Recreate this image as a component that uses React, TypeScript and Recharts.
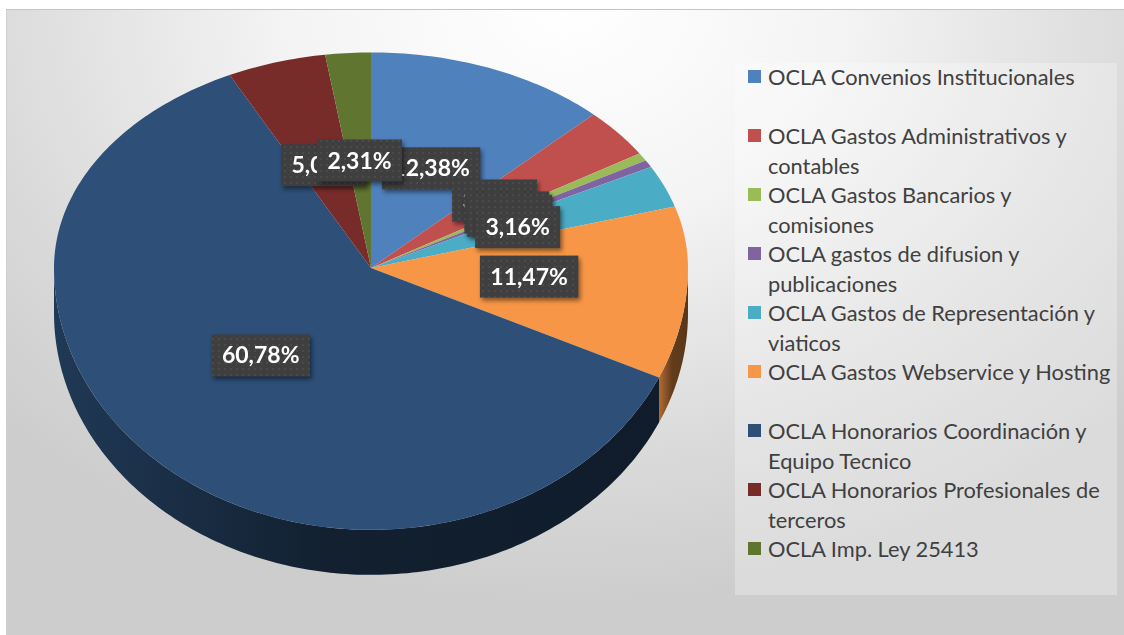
import React from "react";
import { PieChart, Pie, Legend } from "recharts";

// legend text, already broken where the original wraps
const legendLines: string[][] = [
  ["OCLA Convenios Institucionales"],
  ["OCLA Gastos Administrativos y", "contables"],
  ["OCLA Gastos Bancarios y", "comisiones"],
  ["OCLA gastos de difusion y", "publicaciones"],
  ["OCLA Gastos de Representación y", "viaticos"],
  ["OCLA Gastos Webservice y Hosting"],
  ["OCLA Honorarios Coordinación y", "Equipo Tecnico"],
  ["OCLA Honorarios Profesionales de", "terceros"],
  ["OCLA Imp. Ley 25413"],
];
const categories = legendLines.map((l) => l.join(" "));
// share of total, %
const shares = [12.38, 3.7, 0.6, 0.55, 3.16, 11.47, 60.78, 5.05, 2.31];

const colors = [
  "#4F81BD",
  "#C0504D",
  "#9BBB59",
  "#8064A2",
  "#4BACC6",
  "#F79646",
  "#2D4F78",
  "#772C2A",
  "#5F7530",
];

const data = categories.map((name, i) => ({ name, value: shares[i] }));

// fake perspective: back half flatter than the front half
const RY_BACK = 0.68;
const RY_FRONT = 0.826;
const DEPTH = 0.142;

const shade = (hex: string, k: number) => {
  const n = parseInt(hex.slice(1), 16);
  const c = [(n >> 16) & 255, (n >> 8) & 255, n & 255].map((v) => Math.round(v * k));
  return `rgb(${c.join(",")})`;
};

const pt = (cx: number, cy: number, r: number, deg: number, k = 1) => {
  const a = (deg * Math.PI) / 180;
  const s = Math.sin(a);
  return [cx + r * k * Math.cos(a), cy - r * k * s * (s > 0 ? RY_BACK : RY_FRONT)];
};

const arcPts = (cx: number, cy: number, r: number, a1: number, a2: number) => {
  const n = Math.max(2, Math.ceil(Math.abs(a2 - a1)));
  const pts: number[][] = [];
  for (let i = 0; i <= n; i++) pts.push(pt(cx, cy, r, a1 + ((a2 - a1) * i) / n));
  return pts;
};

const toPath = (pts: number[][]) =>
  "M" + pts.map((p) => `${p[0].toFixed(2)},${p[1].toFixed(2)}`).join(" L") + " Z";

const renderSlice = (props: any) => {
  const { cx, cy, outerRadius: r, startAngle, endAngle, index } = props;
  const top = [[cx, cy], ...arcPts(cx, cy, r, startAngle, endAngle)];
  const hi = Math.min(startAngle, 0);
  const lo = Math.max(endAngle, -180);
  let side = null;
  if (hi > lo) {
    const d = r * DEPTH;
    const upper = arcPts(cx, cy, r, hi, lo);
    const lower = upper.map(([x, y]) => [x, y + d]).reverse();
    side = <path d={toPath([...upper, ...lower])} fill={`url(#side-${index})`} />;
  }
  return (
    <g key={`s-${index}`}>
      {side}
      <path d={toPath(top)} fill={colors[index]} />
    </g>
  );
};

const fmt = (v: number) => v.toFixed(2).replace(".", ",") + "%";

const renderValue = (props: any) => {
  const { cx, cy, outerRadius: r, midAngle, index, value } = props;
  const [x, y0] = pt(cx, cy, r, midAngle, 0.5);
  // labels in the front half sit a little higher in the original
  const y = y0 > cy ? cy + (y0 - cy) * 0.93 : y0;
  const text = fmt(value);
  const w = text.length * 13.4 + 18;
  const h = 42;
  return (
    <g key={`l-${index}`} className="val-box">
      <rect x={x - w / 2} y={y - h / 2} width={w} height={h} fill="url(#dots)" />
      <text
        x={x}
        y={y + 8}
        textAnchor="middle"
        fill="#ffffff"
        fontFamily="Lato, sans-serif"
        fontWeight={700}
        fontSize={23}
      >
        {text}
      </text>
    </g>
  );
};

const renderLegend = () => (
  <div
    style={{
      fontFamily: "Lato, sans-serif",
      fontSize: 21.8,
      color: "#404040",
      lineHeight: "29.5px",
      marginTop: -1,
    }}
  >
    {legendLines.map((lines, i) => (
      <div key={i} style={{ position: "relative", height: 59, paddingLeft: 33 }}>
        <span
          style={{
            position: "absolute",
            left: 13,
            top: 8,
            width: 13,
            height: 13,
            background: colors[i],
          }}
        />
        {lines.map((l) => (
          <div key={l} style={{ whiteSpace: "nowrap" }}>
            {l}
          </div>
        ))}
      </div>
    ))}
  </div>
);

export default function App() {
  return (
    <div style={{ position: "absolute", left: 0, top: 0, width: 1124, height: 635, background: "#fff" }}>
      <style>{`
        .pie-geo .recharts-pie-labels { filter: drop-shadow(0px 12px 12px rgba(0,0,0,0.35)); }
        .val-box { filter: drop-shadow(2px 3px 2px rgba(0,0,0,0.45)); }
      `}</style>
      <div
        style={{
          position: "absolute",
          left: 6,
          top: 9,
          width: 1118,
          height: 626,
          borderTop: "1px solid #c4c4c4",
          borderLeft: "1px solid #d0d0d0",
          boxSizing: "border-box",
          background:
            "radial-gradient(ellipse 70% 95% at 50% 0%, #ffffff 0%, #f4f4f4 35%, #dadada 75%, #cdcdcd 100%)",
        }}
      />
      <svg width={0} height={0} style={{ position: "absolute" }}>
        <defs>
          {colors.map((c, i) => (
            <linearGradient key={i} id={`side-${i}`} x1="0" y1="0" x2="1" y2="0">
              <stop offset="0" stopColor={shade(c, 0.72)} />
              <stop offset="0.45" stopColor={shade(c, 0.4)} />
              <stop offset="1" stopColor={shade(c, 0.36)} />
            </linearGradient>
          ))}
          <pattern id="dots" width="6" height="6" patternUnits="userSpaceOnUse">
            <rect width="6" height="6" fill="#3f3f3f" />
            <circle cx="3" cy="3" r="0.8" fill="#575757" />
          </pattern>
        </defs>
      </svg>
      <div style={{ position: "absolute", left: 0, top: 0 }}>
        <PieChart width={1124} height={635} margin={{ top: 0, right: 0, bottom: 0, left: 0 }}>
          <Pie
            className="pie-geo"
            data={data}
            dataKey="value"
            nameKey="name"
            cx={371}
            cy={268}
            outerRadius={317}
            startAngle={90}
            endAngle={-270}
            fill="none"
            stroke="none"
            labelLine={false}
            label={renderSlice}
            isAnimationActive={false}
          />
          <Pie
            data={data}
            dataKey="value"
            nameKey="name"
            cx={371}
            cy={268}
            outerRadius={317}
            startAngle={90}
            endAngle={-270}
            fill="none"
            stroke="none"
            labelLine={false}
            label={renderValue}
            isAnimationActive={false}
          />
          <Legend
            content={renderLegend}
            wrapperStyle={{
              left: 735,
              top: 63,
              width: 382,
              height: 532,
              background: "rgba(255,255,255,0.28)",
            }}
          />
        </PieChart>
      </div>
    </div>
  );
}
